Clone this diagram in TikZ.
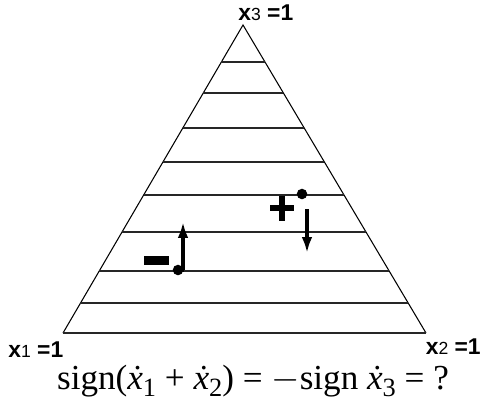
\documentclass[tikz,border=0pt]{standalone}
\usepackage{fontspec}
\setmainfont{Liberation Serif}
\newfontfamily\labelfont{Liberation Sans}
\usetikzlibrary{arrows.meta, positioning, calc}
\newcommand{\lowsub}[1]{\raisebox{-0.45ex}{\fontsize{15}{16}\selectfont #1}}

\begin{document}
\begin{tikzpicture}[
    x=0.02cm, y=-0.02cm,
    edge/.style={line width=0.6pt},
    level/.style={line width=0.9pt, black!85},
    move/.style={-{Latex[length=9pt, width=6pt]}, line width=2.2pt},
    dot/.style={circle, fill=black, inner sep=0pt, minimum size=6pt},
    corner/.style={font=\labelfont\bfseries\fontsize{13}{15}\selectfont, inner sep=0pt},
    mark sign/.style={line width=3pt},
]
\useasboundingbox (0,0) rectangle (482,410);

% Corners
\coordinate (top) at (243,25);
\coordinate (left) at (63,333);
\coordinate (right) at (426,333);
\node[corner, anchor=west] (x3) at (238,13) {x{\fontsize{10}{11}\selectfont\mdseries 3} =1};
\node[corner, anchor=west] (x1) at (8,350) {x{\fontsize{10}{11}\selectfont\mdseries 1} =1};
\node[corner, anchor=east] (x2) at (481,347) {x{\fontsize{10}{11}\selectfont\mdseries 2} =1};

% Triangle and levels
\draw[edge] (left) -- (top) -- (right);
\draw[level] (left) -- (right);
\foreach \t in {0.120, 0.221, 0.334, 0.445, 0.552, 0.672, 0.799, 0.903}
    \draw[level] ($(top)!\t!(left)$) -- ($(top)!\t!(right)$);

% Moves
\node[dot] (dotL) at (178,270) {};
\node[dot] (dotR) at (302,194) {};
\coordinate (upend) at (183,222);
\coordinate (downstart) at (307,209);
\coordinate (downend) at (307,253);
\draw[move] (dotL) -| (upend);
\draw[move] (downstart) -- (downend);

% Signs
\fill (144,256) rectangle (169,265);
\draw[mark sign] (270,208) -- (294,208);
\draw[mark sign] (282,196) -- (282,221);

% Question
\node[font=\fontsize{20}{24}\selectfont, inner sep=0pt] (question) at (253,381)
    {sign(\textit{\.x}\lowsub{1} + \textit{\.x}\lowsub{2}) = $-$sign \textit{\.x}\lowsub{3} = ?};

\end{tikzpicture}
\end{document}
